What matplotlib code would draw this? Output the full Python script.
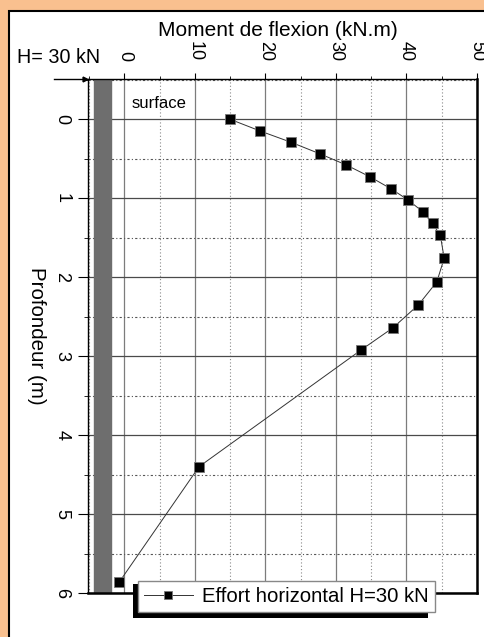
import numpy as np
import matplotlib.pyplot as plt
from matplotlib.patches import Rectangle
from matplotlib.lines import Line2D
from matplotlib.ticker import MultipleLocator

plt.rcParams['font.family'] = ['Liberation Sans', 'DejaVu Sans']

# moment de flexion le long du pieu
moment = [15.0, 19.3, 23.6, 27.8, 31.5, 34.85, 37.8, 40.2, 42.3, 43.7,
          44.8, 45.35, 44.3, 41.7, 38.1, 33.6, 10.6, -0.7]
depth = [0.0, 0.15, 0.29, 0.44, 0.58, 0.73, 0.88, 1.02, 1.17, 1.32,
         1.47, 1.76, 2.06, 2.35, 2.64, 2.92, 4.40, 5.86]
x_ticks = [0, 10, 20, 30, 40, 50]
y_ticks = [0, 1, 2, 3, 4, 5, 6]

W, H = 485, 637
fig = plt.figure(figsize=(W / 100, H / 100), dpi=100)
fig.patch.set_facecolor('#F9C08F')

# white panel with black border
panel = Rectangle((9 / W, -0.05), 1.2, 1 - 11 / H + 0.05, transform=fig.transFigure,
                  facecolor='white', edgecolor='black', lw=1.5, zorder=-10)
fig.patches.append(panel)

ax = fig.add_axes([88.3 / W, 1 - 593 / H, (477 - 88.3) / W, (593 - 79) / H])
ax.set_xlim(-5.1, 50)
ax.set_ylim(6.0, -0.51)

# pieu
ax.axvspan(-4.26, -1.89, color='#6E6E6E', zorder=1)

ax.plot(moment, depth, color='#333333', lw=0.7, marker='s', ms=7,
        mfc='black', mec='#777777', mew=0.6, zorder=3,
        label='Effort horizontal H=30 kN')

ax.xaxis.set_major_locator(MultipleLocator(10))
ax.xaxis.set_minor_locator(MultipleLocator(5))
ax.yaxis.set_major_locator(MultipleLocator(1))
ax.yaxis.set_minor_locator(MultipleLocator(0.5))
ax.set_xticks(x_ticks)
ax.set_yticks(y_ticks)

ax.xaxis.grid(True, which='major', color='#7c7c7c', lw=0.9, ls='-')
ax.yaxis.grid(True, which='major', color='#4a4a4a', lw=0.9, ls='-')
ax.xaxis.grid(True, which='minor', color='#8a8a8a', lw=0.8, ls=(0, (1, 2)))
ax.yaxis.grid(True, which='minor', color='#555555', lw=0.8, ls=(0, (2, 2, 1, 2)))
ax.set_axisbelow(True)

ax.xaxis.tick_top()
ax.tick_params(axis='x', which='major', direction='out', length=4, pad=9,
               labelsize=13, labelrotation=-90)
ax.tick_params(axis='x', which='minor', direction='out', length=2)
ax.tick_params(axis='y', which='major', direction='out', length=7, pad=6,
               labelsize=13, labelrotation=-90)
ax.tick_params(axis='y', which='minor', direction='out', length=3)
for lab in ax.get_yticklabels():
    lab.set_va('center')
for lab in ax.get_xticklabels():
    lab.set_ha('center')
    lab.set_va('bottom')

for s in ['top', 'left']:
    ax.spines[s].set_linewidth(1.0)
for s in ['right', 'bottom']:
    ax.spines[s].set_linewidth(1.8)

ax.text(1.0, -0.1, 'surface', fontsize=12, ha='left', va='bottom')

fig.text(278 / W, 1 - 30 / H, 'Moment de flexion (kN.m)', fontsize=15,
         ha='center', va='center')
fig.text(17 / W, 1 - 63 / H, 'H= 30 kN', fontsize=14.2, ha='left', va='baseline')
fig.text(36 / W, 1 - 336 / H, 'Profondeur (m)', fontsize=14.8, rotation=-90,
         ha='center', va='center')

# petite fleche sur l'axe superieur
fig.lines.append(Line2D([54 / W, 85 / W], [1 - 79 / H, 1 - 79 / H],
                        transform=fig.transFigure, color='black', lw=1))
fig.lines.append(Line2D([85 / W], [1 - 79 / H], transform=fig.transFigure,
                        color='black', marker='>', ms=3.5, lw=0))

# legende avec ombre noire
leg = ax.legend(loc='lower left', bbox_to_anchor=(138 / W, 1 - 612 / H),
                bbox_transform=fig.transFigure, fontsize=14.6, frameon=True,
                fancybox=False, borderpad=0.3, handlelength=2.4,
                handletextpad=0.45, borderaxespad=0, markerscale=0.75,
                framealpha=1, facecolor='white')
leg.get_frame().set_edgecolor('#888888')
leg.get_frame().set_linewidth(1.0)
leg.set_zorder(6)
shadow = Rectangle((133 / W, 1 - 618 / H), 295 / W, 34 / H,
                   transform=fig.transFigure, facecolor='black',
                   edgecolor='none', zorder=5.5, clip_on=False)
ax.add_patch(shadow)

fig.savefig('out.png', dpi=100, facecolor=fig.get_facecolor())
